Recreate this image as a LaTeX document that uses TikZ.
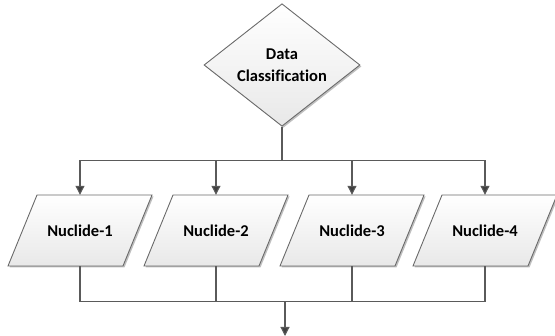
\documentclass[tikz,border=0pt]{standalone}
\usepackage{fontspec}
\setmainfont{Carlito}[Ligatures=NoCommon]
\usetikzlibrary{shapes.geometric,shadows,arrows.meta}
\definecolor{edgec}{HTML}{6A6A6A}
\definecolor{linec}{HTML}{5A5A5A}
\definecolor{tipc}{HTML}{404040}
\begin{document}
\begin{tikzpicture}[x=1pt,y=-1pt,
  boxfill/.style={top color=white, bottom color=black!9, draw=edgec, line width=0.9pt,
    drop shadow={shadow xshift=1.5pt, shadow yshift=-1.5pt, fill=black, opacity=0.25}},
  dia/.style={diamond, boxfill, minimum width=156pt, minimum height=116pt, inner sep=0pt,
    align=center, font=\fontsize{16.5}{22}\selectfont\bfseries},
  para/.style={rectangle, draw=none, minimum width=144pt, minimum height=71pt, inner sep=0pt,
    font=\fontsize{16.5}{22}\selectfont\bfseries},
  conn/.style={draw=linec, line width=1.1pt},
  arr/.style={conn, -{Triangle[length=9pt,width=9pt,fill=tipc]}}
]
\useasboundingbox (0,0) rectangle (555,336);
\node[dia] (dc) at (282,65) {Data\\Classification};
\foreach \i/\x in {1/80,2/216,3/352,4/485}{
  \path[boxfill] (\x-43,195) -- (\x+72,195) -- (\x+43,266) -- (\x-72,266) -- cycle;
  \node[para] (n\i) at (\x,230.5) {Nuclide-\i};
}
\coordinate (busT) at (282,160.5);
\coordinate (busB) at (285,301.5);
\coordinate (out) at (285,336);
\draw[conn] (dc.south) -- (busT);
\foreach \i in {1,2,3,4}{
  \draw[arr] (busT) -| (n\i.north);
  \draw[conn] (n\i.south) |- (busB);
}
\draw[arr] (busB) -- (out);
\end{tikzpicture}
\end{document}
